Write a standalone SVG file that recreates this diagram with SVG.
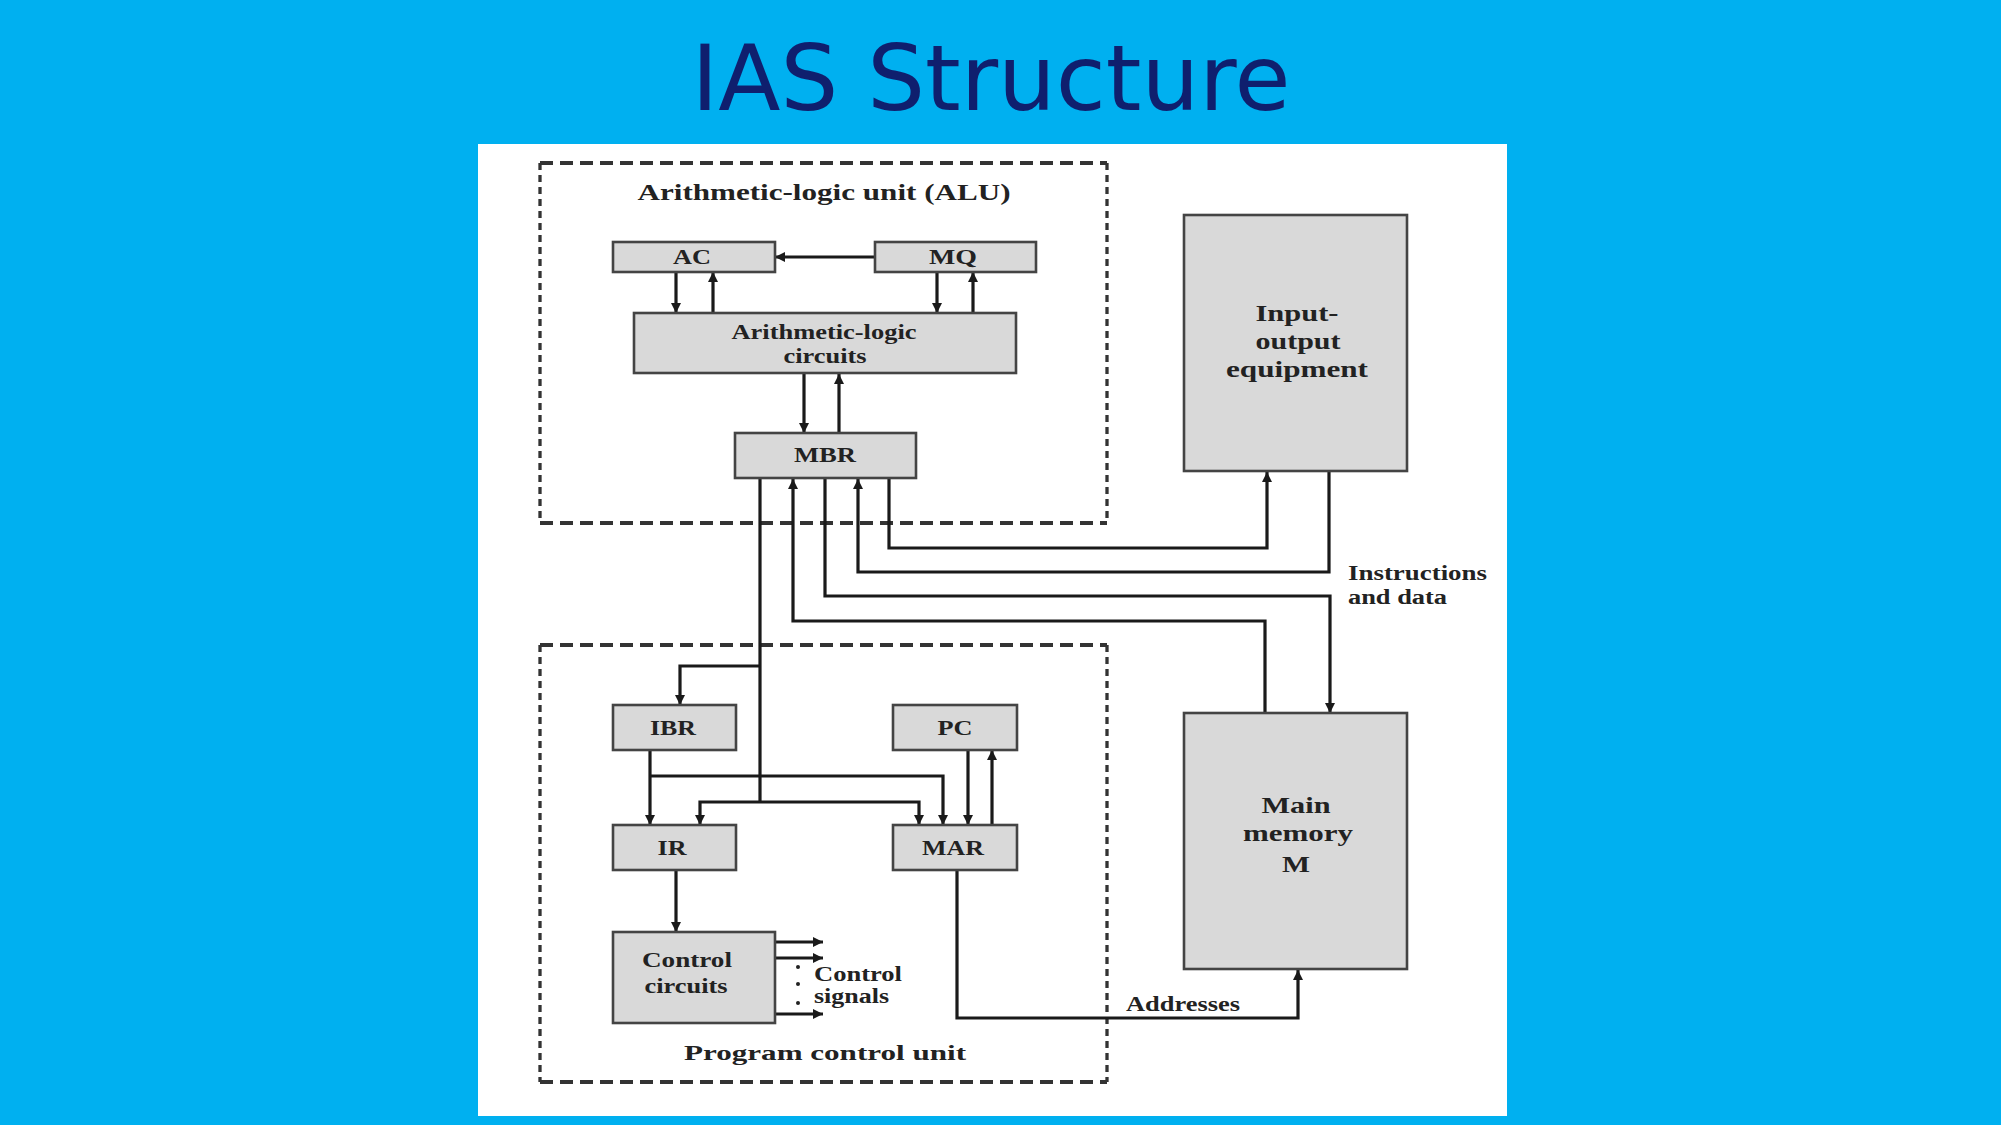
<svg xmlns="http://www.w3.org/2000/svg" width="2001" height="1125" viewBox="0 0 2001 1125">
<defs>
<style>
.bg{fill:#00B0F0}
.panel{fill:#FFFFFF}
.title{font-family:"DejaVu Sans",sans-serif;font-size:91px;fill:#0F1F6E}
.box{fill:#D9D9D9;stroke:#444;stroke-width:2.6}
.t{font-family:"Liberation Serif",serif;font-weight:bold;fill:#222;text-anchor:middle}
.tl{font-family:"Liberation Serif",serif;font-weight:bold;fill:#222}
.dh{fill:none;stroke:#333;stroke-width:4;stroke-dasharray:13 7}
.dv{fill:none;stroke:#333;stroke-width:3.3;stroke-dasharray:7 5}
.c{fill:none;stroke:#1A1A1A;stroke-width:3.2}
</style>
<marker id="ah" viewBox="0 0 10 10" refX="10" refY="5" markerWidth="10" markerHeight="10" markerUnits="userSpaceOnUse" orient="auto">
<path d="M0,0 L10,5 L0,10 z" fill="#1A1A1A"/>
</marker>
</defs>
<rect class="bg" x="0" y="0" width="2001" height="1125"/>
<rect class="panel" x="478" y="144" width="1029" height="972"/>
<text class="title" x="991" y="110" text-anchor="middle">IAS Structure</text>

<g id="alu-group">
<path class="dh" d="M540,163 L1107,163 M540,523 L1107,523"/>
<path class="dv" d="M540,163 L540,523 M1107,163 L1107,523"/>
<text class="t" x="824" y="200" font-size="23" textLength="373" lengthAdjust="spacingAndGlyphs">Arithmetic-logic unit (ALU)</text>
</g>
<g id="pcu-group">
<path class="dh" d="M540,645 L1107,645 M540,1082 L1107,1082"/>
<path class="dv" d="M540,645 L540,1082 M1107,645 L1107,1082"/>
<text class="t" x="825" y="1060" font-size="22" textLength="282" lengthAdjust="spacingAndGlyphs">Program control unit</text>
</g>

<g id="connectors">
<path class="c" d="M874,257 L775,257" marker-end="url(#ah)"/>
<path class="c" d="M676,272 L676,313" marker-end="url(#ah)"/>
<path class="c" d="M713,313 L713,272" marker-end="url(#ah)"/>
<path class="c" d="M937,272 L937,313" marker-end="url(#ah)"/>
<path class="c" d="M973,313 L973,272" marker-end="url(#ah)"/>
<path class="c" d="M804,374 L804,433" marker-end="url(#ah)"/>
<path class="c" d="M839,433 L839,374" marker-end="url(#ah)"/>
<path class="c" d="M889,479 L889,548 L1267,548 L1267,472" marker-end="url(#ah)"/>
<path class="c" d="M1329,472 L1329,572 L858,572 L858,479" marker-end="url(#ah)"/>
<path class="c" d="M825,479 L825,596 L1330,596 L1330,713" marker-end="url(#ah)"/>
<path class="c" d="M1265,713 L1265,621 L793,621 L793,479" marker-end="url(#ah)"/>
<path class="c" d="M760,479 L760,802"/>
<path class="c" d="M760,666 L680,666 L680,705" marker-end="url(#ah)"/>
<path class="c" d="M760,802 L700,802 L700,825" marker-end="url(#ah)"/>
<path class="c" d="M760,802 L919,802 L919,825" marker-end="url(#ah)"/>
<path class="c" d="M650,750 L650,825" marker-end="url(#ah)"/>
<path class="c" d="M650,776 L943,776 L943,825" marker-end="url(#ah)"/>
<path class="c" d="M968,750 L968,825" marker-end="url(#ah)"/>
<path class="c" d="M992,825 L992,750" marker-end="url(#ah)"/>
<path class="c" d="M676,870 L676,932" marker-end="url(#ah)"/>
<path class="c" d="M957,870 L957,1018 L1298,1018 L1298,970" marker-end="url(#ah)"/>
<path class="c" d="M775,942 L823,942" marker-end="url(#ah)"/>
<path class="c" d="M775,958 L823,958" marker-end="url(#ah)"/>
<path class="c" d="M775,1014 L823,1014" marker-end="url(#ah)"/>
<circle cx="798" cy="967" r="2" fill="#222"/>
<circle cx="798" cy="984" r="2" fill="#222"/>
<circle cx="798" cy="1003" r="2" fill="#222"/>
<text class="tl" x="814" y="981" font-size="20" textLength="88" lengthAdjust="spacingAndGlyphs">Control</text>
<text class="tl" x="814" y="1003" font-size="20" textLength="75" lengthAdjust="spacingAndGlyphs">signals</text>
<text class="tl" x="1348" y="580" font-size="20" textLength="139" lengthAdjust="spacingAndGlyphs">Instructions</text>
<text class="tl" x="1348" y="604" font-size="20" textLength="99" lengthAdjust="spacingAndGlyphs">and data</text>
<text class="tl" x="1126" y="1011" font-size="20" textLength="114" lengthAdjust="spacingAndGlyphs">Addresses</text>
</g>

<g id="ac">
<rect class="box" x="613" y="242" width="162" height="30"/>
<text class="t" x="692" y="264" font-size="20" textLength="38" lengthAdjust="spacingAndGlyphs">AC</text>
</g>
<g id="mq">
<rect class="box" x="875" y="242" width="161" height="30"/>
<text class="t" x="953" y="264" font-size="20" textLength="48" lengthAdjust="spacingAndGlyphs">MQ</text>
</g>
<g id="alc">
<rect class="box" x="634" y="313" width="382" height="60"/>
<text class="t" x="824" y="339" font-size="20" textLength="185" lengthAdjust="spacingAndGlyphs">Arithmetic-logic</text>
<text class="t" x="825" y="363" font-size="20" textLength="83" lengthAdjust="spacingAndGlyphs">circuits</text>
</g>
<g id="mbr">
<rect class="box" x="735" y="433" width="181" height="45"/>
<text class="t" x="825" y="462" font-size="21" textLength="62" lengthAdjust="spacingAndGlyphs">MBR</text>
</g>
<g id="io">
<rect class="box" x="1184" y="215" width="223" height="256"/>
<text class="t" x="1297" y="321" font-size="24" textLength="83" lengthAdjust="spacingAndGlyphs">Input-</text>
<text class="t" x="1298" y="349" font-size="24" textLength="85" lengthAdjust="spacingAndGlyphs">output</text>
<text class="t" x="1297" y="377" font-size="24" textLength="142" lengthAdjust="spacingAndGlyphs">equipment</text>
</g>
<g id="mem">
<rect class="box" x="1184" y="713" width="223" height="256"/>
<text class="t" x="1296" y="813" font-size="24" textLength="69" lengthAdjust="spacingAndGlyphs">Main</text>
<text class="t" x="1298" y="841" font-size="24" textLength="110" lengthAdjust="spacingAndGlyphs">memory</text>
<text class="t" x="1296" y="872" font-size="24" textLength="28" lengthAdjust="spacingAndGlyphs">M</text>
</g>
<g id="ibr">
<rect class="box" x="613" y="705" width="123" height="45"/>
<text class="t" x="673" y="735" font-size="20" textLength="46" lengthAdjust="spacingAndGlyphs">IBR</text>
</g>
<g id="pc">
<rect class="box" x="893" y="705" width="124" height="45"/>
<text class="t" x="955" y="735" font-size="20" textLength="35" lengthAdjust="spacingAndGlyphs">PC</text>
</g>
<g id="ir">
<rect class="box" x="613" y="825" width="123" height="45"/>
<text class="t" x="672" y="855" font-size="20" textLength="29" lengthAdjust="spacingAndGlyphs">IR</text>
</g>
<g id="mar">
<rect class="box" x="893" y="825" width="124" height="45"/>
<text class="t" x="953" y="855" font-size="20" textLength="62" lengthAdjust="spacingAndGlyphs">MAR</text>
</g>
<g id="control">
<rect class="box" x="613" y="932" width="162" height="91"/>
<text class="t" x="687" y="967" font-size="20" textLength="90" lengthAdjust="spacingAndGlyphs">Control</text>
<text class="t" x="686" y="993" font-size="20" textLength="83" lengthAdjust="spacingAndGlyphs">circuits</text>
</g>
</svg>
